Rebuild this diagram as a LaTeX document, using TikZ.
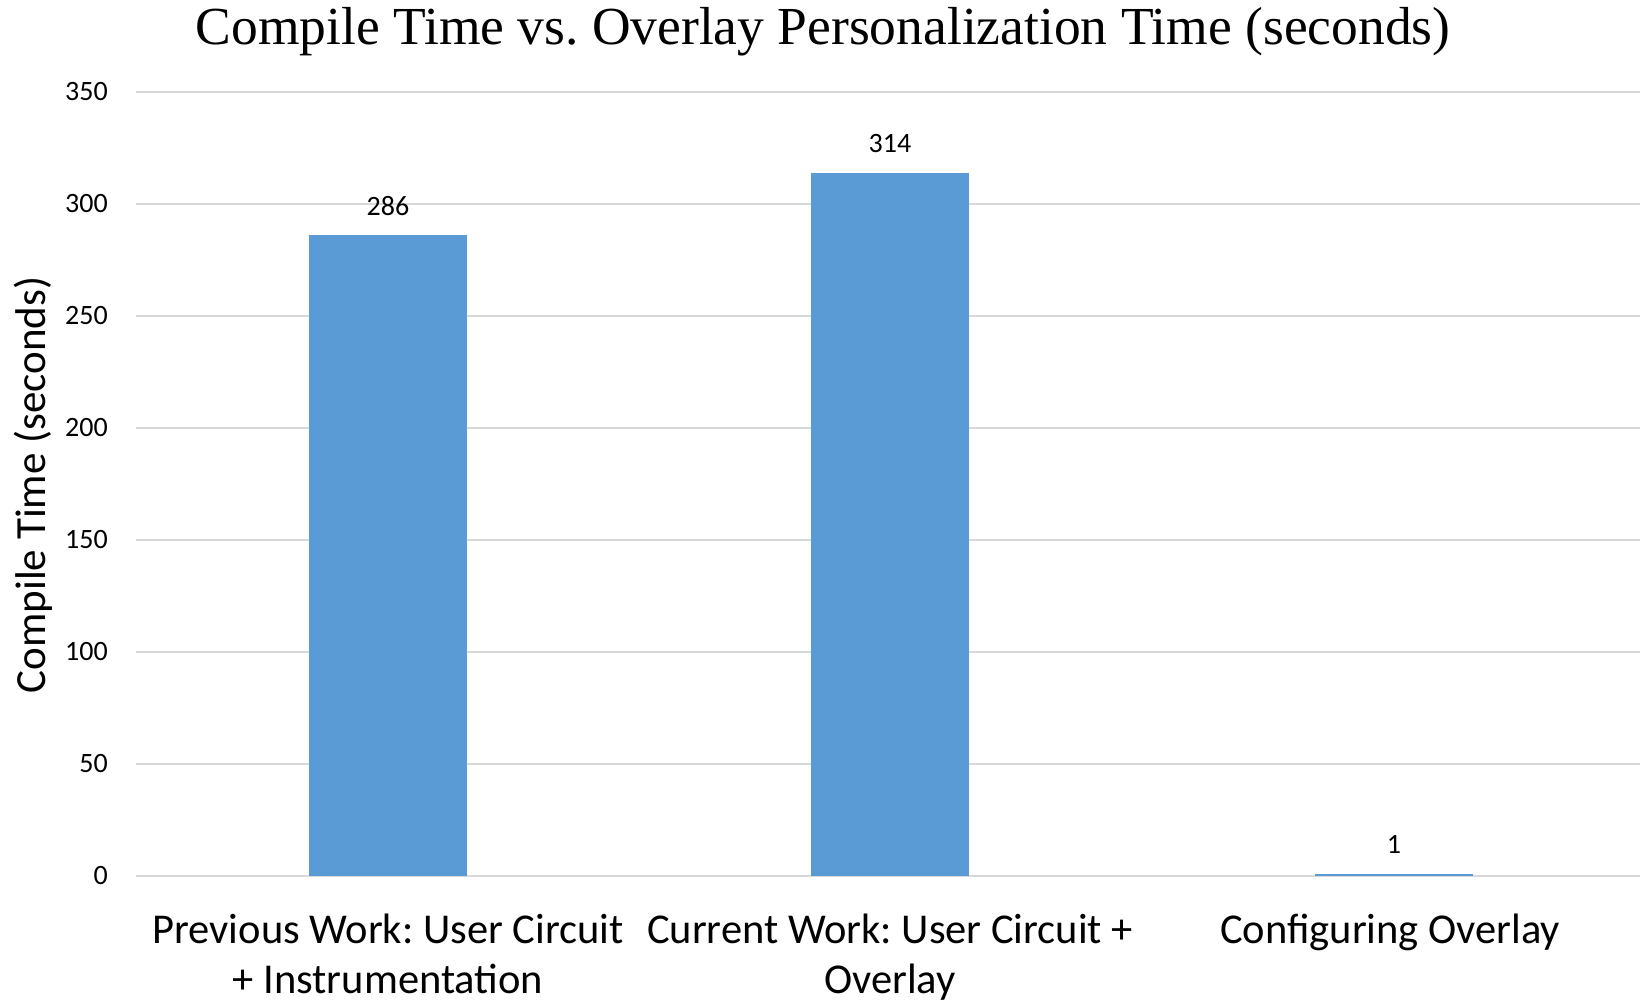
\documentclass[tikz,border=0pt]{standalone}
\usepackage{fontspec}
\setmainfont{Carlito}
\newfontfamily\titlefont{Liberation Serif}
\frenchspacing
\definecolor{barblue}{HTML}{5B9BD5}
\definecolor{gridgray}{HTML}{D9D9D9}
\begin{document}
\begin{tikzpicture}[x=1pt, y=1pt, line join=round,
	gridline/.style={draw=gridgray, line width=2pt},
	bar/.style={fill=barblue},
	ticklabel/.style={anchor=east, inner sep=0pt, font=\fontsize{28}{34}\selectfont},
	vallabel/.style={anchor=base, inner sep=0pt, font=\fontsize{28}{34}\selectfont},
	catlabel/.style={anchor=base, inner sep=0pt, align=center, font=\fontsize{42.5}{50}\selectfont}]
		\useasboundingbox (0,0) rectangle (1640,1005);
		\def\xmin{136} \def\xmax{1640}
		\def\yo{129} \def\s{2.24} \def\hw{79}
		% title and axis title
		\node[anchor=base, inner sep=0pt, font=\titlefont\fontsize{53.5}{60}\selectfont] (title) at (823,960) {Compile Time vs. Overlay Personalization Time (seconds)};
		\node[rotate=90, inner sep=0pt, font=\fontsize{43}{46}\selectfont] (ytitle) at (33,520) {Compile Time (seconds)};
		% grid and ticks
		\foreach \v in {0,50,...,350}{
			\draw[gridline] (\xmin,\yo+\v*\s) -- (\xmax,\yo+\v*\s);
			\node[ticklabel] (t\v) at (108,\yo+\v*\s) {\v};
		}
		% bars
		\foreach \c/\v/\n in {388/286/a,890/314/b,1394/1/c}{
			\fill[bar] (\c-\hw,\yo) rectangle (\c+\hw,\yo+\v*\s);
			\node[vallabel] (v\n) at (\c,\yo+\v*\s+20) {\v};
		}
		% category labels (base = last line)
		\node[catlabel] (ca) at (388,12) {Previous Work: User Circuit\\+ Instrumentation};
		\node[catlabel] (cb) at (890,12) {Current Work: User Circuit +\\Overlay};
		\node[catlabel] (cc) at (1390,62) {Configuring Overlay};
	\end{tikzpicture}
\end{document}
